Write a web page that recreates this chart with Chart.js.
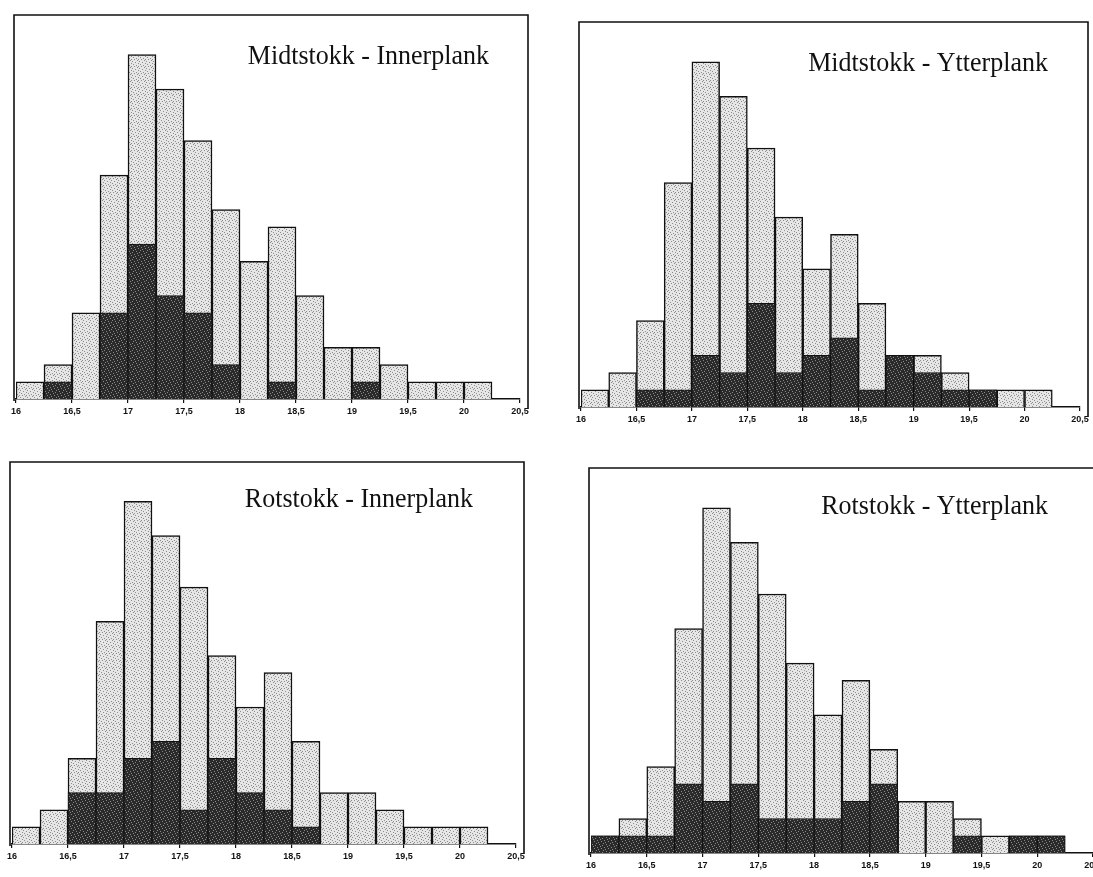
<!DOCTYPE html>
<html>
<head>
<meta charset="utf-8">
<title>Midtstokk / Rotstokk - Innerplank / Ytterplank</title>
<script src="https://cdn.jsdelivr.net/npm/chart.js@4.4.1/dist/chart.umd.min.js"></script>
<style>
	html, body { margin: 0; padding: 0; background: #fff; }
	#page { position: relative; width: 1093px; height: 877px; overflow: hidden; }
	#page canvas { position: absolute; }
</style>
</head>
<body>
<div id="page">
	<canvas id="midt-inner"></canvas>
	<canvas id="midt-ytter"></canvas>
	<canvas id="rot-inner"></canvas>
	<canvas id="rot-ytter"></canvas>
</div>
<script>
// bins are 0.25 wide, each value is the start of a bin
const binStarts = [16, 16.25, 16.5, 16.75, 17, 17.25, 17.5, 17.75, 18, 18.25, 18.5, 18.75, 19, 19.25, 19.5, 19.75, 20];
const binWidth = 0.25;

// light bars: the same total in every panel
const totalCounts = [1, 2, 5, 13, 20, 18, 15, 11, 8, 10, 6, 3, 3, 2, 1, 1, 1];

// dark bars, one array per panel
const midtInnerDark = [0, 1, 0, 5, 9, 6, 5, 2, 0, 1, 0, 0, 1, 0, 0, 0, 0];
const midtYtterDark = [0, 0, 1, 1, 3, 2, 6, 2, 3, 4, 1, 3, 2, 1, 1, 0, 0];
const rotInnerDark  = [0, 0, 3, 3, 5, 6, 2, 5, 3, 2, 1, 0, 0, 0, 0, 0, 0];
const rotYtterDark  = [1, 1, 1, 4, 3, 4, 2, 2, 2, 3, 4, 0, 0, 1, 0, 1, 1];

const tickValues = [16, 16.5, 17, 17.5, 18, 18.5, 19, 19.5, 20, 20.5];
const tickLabels = ['16', '16,5', '17', '17,5', '18', '18,5', '19', '19,5', '20', '20,5'];

const xMin = 16;
const xMax = 20.5;
const yMax = 22.3;

(function () {
	'use strict';

	// plot box of each panel on the page: left/right = 16 and 20,5, top = frame, bottom = axis
	const panels = [
		{ id: 'midt-inner', title: 'Midtstokk - Innerplank', dark: midtInnerDark, left: 16, right: 520, top: 15, bottom: 399, titleRight: 473, titleY: 49, rightFrame: true },
		{ id: 'midt-ytter', title: 'Midtstokk - Ytterplank', dark: midtYtterDark, left: 581, right: 1080, top: 22, bottom: 407, titleRight: 467, titleY: 49, rightFrame: true },
		{ id: 'rot-inner', title: 'Rotstokk - Innerplank', dark: rotInnerDark, left: 12, right: 516, top: 462, bottom: 844, titleRight: 461, titleY: 45, rightFrame: true },
		{ id: 'rot-ytter', title: 'Rotstokk - Ytterplank', dark: rotYtterDark, left: 591, right: 1093, top: 468, bottom: 853, titleRight: 457, titleY: 46, rightFrame: false }
	];

	const pad = { left: 10, top: 10, right: 20, bottom: 6 };
	const xAxisHeight = 24;

	// scanned stipple look, fixed dot layout
	function makePattern(base, dot, dots) {
		const tile = document.createElement('canvas');
		tile.width = 7;
		tile.height = 7;
		const c = tile.getContext('2d');
		c.fillStyle = base;
		c.fillRect(0, 0, 7, 7);
		c.fillStyle = dot;
		dots.forEach(function(p) {
			c.fillRect(p[0], p[1], 1, 1);
		});
		return c.createPattern(tile, 'repeat');
	}

	const lightFill = makePattern('#e6e6e6', '#8c8c8c', [[0, 0], [3, 1], [6, 2], [1, 3], [4, 4], [2, 5], [5, 6], [6, 5]]);
	const darkFill = makePattern('#2a2a2a', '#8a8a8a', [[1, 0], [4, 1], [0, 2], [5, 3], [2, 4], [6, 5], [3, 6]]);

	function toPoints(values) {
		return binStarts.map(function(start, i) {
			return { x: start + binWidth / 2, y: values[i] };
		});
	}

	const framePlugin = {
		id: 'frame',
		afterDraw(chart, args, opts) {
			const area = chart.chartArea;
			const ctx = chart.ctx;
			ctx.save();
			ctx.strokeStyle = '#111';
			ctx.lineWidth = 1.6;
			ctx.beginPath();
			// left edge
			ctx.moveTo(area.left - 2, area.bottom + 2);
			ctx.lineTo(area.left - 2, area.top);
			// top edge
			const frameRight = opts.rightFrame ? area.right + 8 : chart.width;
			ctx.lineTo(frameRight, area.top);
			if (opts.rightFrame) {
				ctx.lineTo(frameRight, area.bottom + 10);
			}
			ctx.stroke();

			// scan title, slightly taller than wide
			ctx.fillStyle = '#111';
			ctx.font = '26px "Liberation Serif", "Times New Roman", serif';
			ctx.textBaseline = 'alphabetic';
			ctx.textAlign = 'right';
			ctx.translate(area.left + opts.titleRight, area.top + opts.titleY);
			ctx.scale(1, 1.08);
			ctx.fillText(opts.title, 0, 0);
			ctx.restore();
		}
	};

	panels.forEach(function(panel) {
		const node = document.getElementById(panel.id);
		const width = panel.right - panel.left + pad.left + pad.right;
		const height = panel.bottom - panel.top + pad.top + pad.bottom + xAxisHeight;
		node.width = width;
		node.height = height;
		node.style.left = (panel.left - pad.left) + 'px';
		node.style.top = (panel.top - pad.top) + 'px';
		node.style.width = width + 'px';
		node.style.height = height + 'px';

		new Chart(node, {
			type: 'bar',
			data: {
				datasets: [
					{
						data: toPoints(panel.dark),
						order: 0,
						backgroundColor: darkFill,
						borderColor: '#111',
						borderWidth: 1,
						grouped: false,
						barPercentage: 1,
						categoryPercentage: 1
					},
					{
						data: toPoints(totalCounts),
						order: 1,
						backgroundColor: lightFill,
						borderColor: '#111',
						borderWidth: 1.5,
						grouped: false,
						barPercentage: 1,
						categoryPercentage: 1
					}
				]
			},
			options: {
				responsive: false,
				animation: false,
				events: [],
				layout: { padding: pad },
				plugins: {
					legend: { display: false },
					tooltip: { enabled: false },
					frame: { title: panel.title, titleRight: panel.titleRight, titleY: panel.titleY, rightFrame: panel.rightFrame }
				},
				scales: {
					x: {
						type: 'linear',
						min: xMin,
						max: xMax,
						offset: false,
						afterFit(scale) {
							scale.height = xAxisHeight;
						},
						afterBuildTicks(scale) {
							scale.ticks = tickValues.map(function(v) { return { value: v }; });
						},
						ticks: {
							autoSkip: false,
							maxRotation: 0,
							padding: 3,
							color: '#111',
							font: { family: '"Liberation Sans", Arial, sans-serif', size: 9, weight: 'bold' },
							callback: function(value, index) {
								return tickLabels[index];
							}
						},
						grid: {
							display: true,
							offset: false,
							drawOnChartArea: false,
							drawTicks: true,
							tickLength: 4,
							color: '#111',
							lineWidth: 1.2
						},
						border: { display: true, color: '#111', width: 1.6 }
					},
					y: {
						min: 0,
						max: yMax,
						afterFit(scale) {
							scale.width = 0;
						},
						ticks: { display: false },
						grid: { display: false },
						border: { display: false }
					}
				}
			},
			plugins: [framePlugin]
		});
	});
})();
</script>
</body>
</html>
